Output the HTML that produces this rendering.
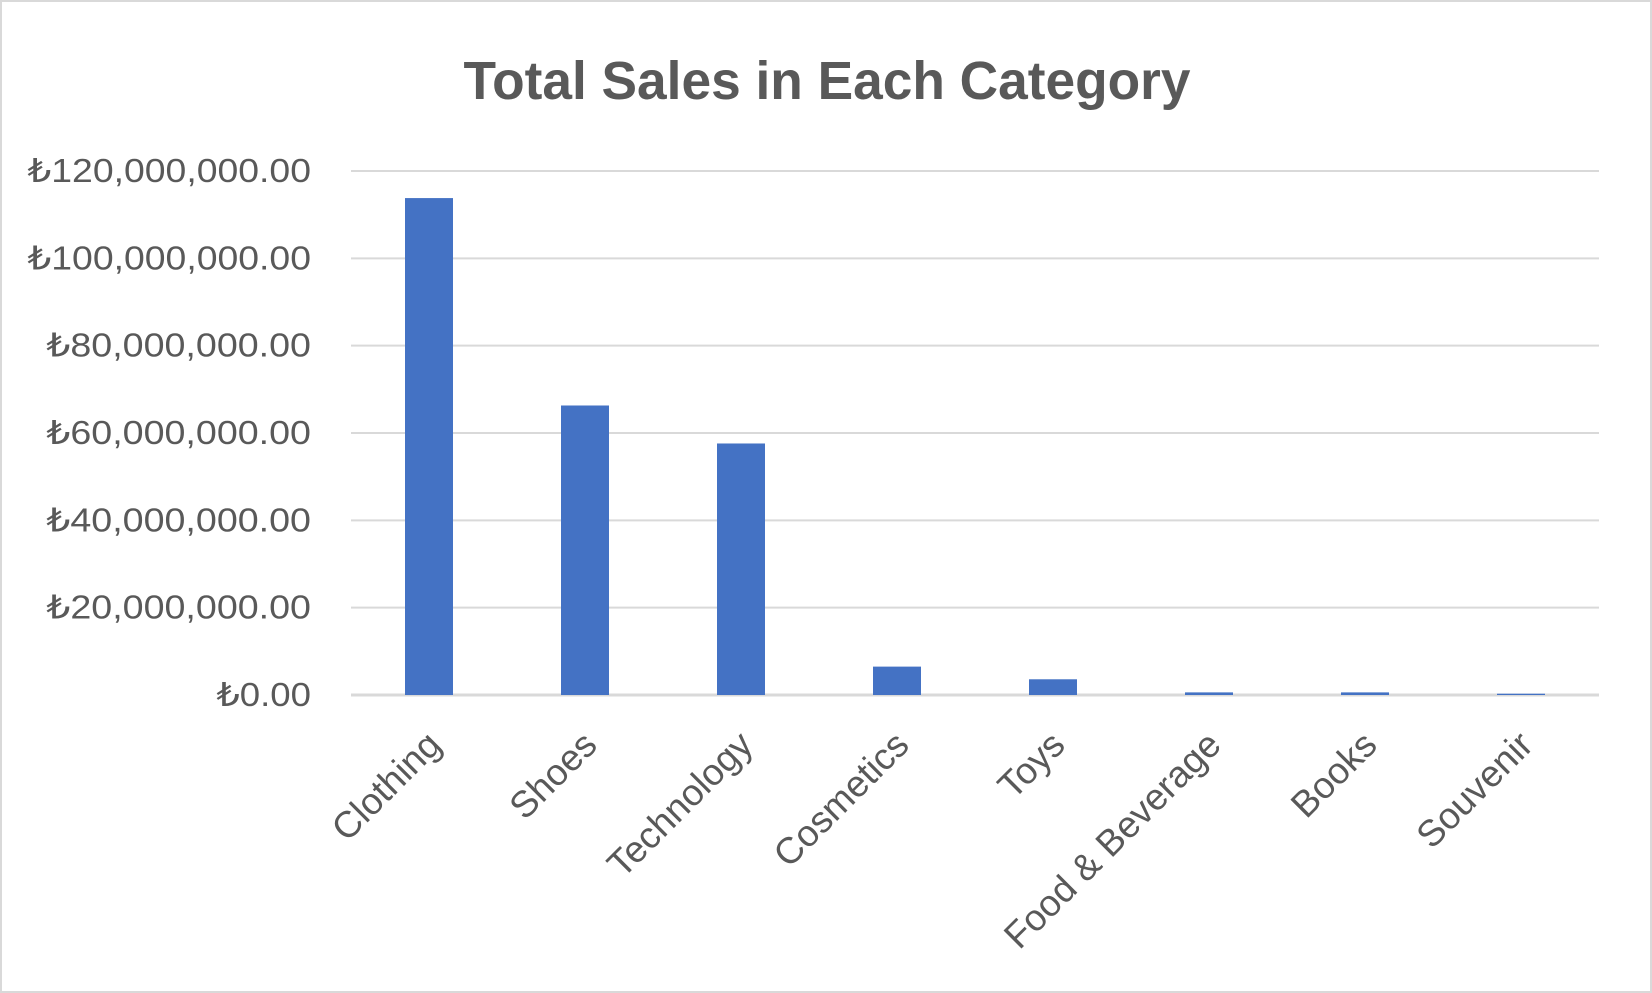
<!DOCTYPE html>
<html><head><meta charset="utf-8"><style>
html,body{margin:0;padding:0;background:#fff}
svg{display:block}
</style></head><body>
<svg id="chart" width="1652" height="993" viewBox="0 0 1652 993">
<rect x="1" y="1" width="1650" height="991" fill="#fff" stroke="#d9d9d9" stroke-width="2"/>
<text x="827" y="99" text-anchor="middle" font-family="Liberation Sans, sans-serif" font-weight="bold" font-size="54" fill="#595959" textLength="727" lengthAdjust="spacingAndGlyphs">Total Sales in Each Category</text>
<g id="grid"></g><g id="yaxis"></g><g id="bars"></g><g id="xaxis"></g>
</svg>
<script>
const categories = ["Clothing","Shoes","Technology","Cosmetics","Toys","Food & Beverage","Books","Souvenir"];
const sales = [113800000,66300000,57600000,6500000,3600000,600000,600000,300000];
const yTicks = [0,20000000,40000000,60000000,80000000,100000000,120000000];
const yTickLabels = ["₺0.00","₺20,000,000.00","₺40,000,000.00","₺60,000,000.00","₺80,000,000.00","₺100,000,000.00","₺120,000,000.00"];

const NS="http://www.w3.org/2000/svg";
const L=351,R=1599,Y0=695,YT=171,YMAX=120000000;
const y=v=>Y0-(v/YMAX)*(Y0-YT);
const band=(R-L)/categories.length;
const xc=i=>L+band*(i+0.5);
const BW=48;
function mk(t,a,p){const e=document.createElementNS(NS,t);for(const k in a)e.setAttribute(k,a[k]);p.appendChild(e);return e;}
const grid=document.getElementById('grid'),ya=document.getElementById('yaxis'),bars=document.getElementById('bars'),xa=document.getElementById('xaxis');
yTicks.forEach((v,i)=>{
  const ln=mk('line',{x1:L,x2:R,y1:y(v),y2:y(v),stroke:'#d9d9d9','stroke-width':v===0?3:2},grid);
  
  
  const t=mk('text',{x:311,y:y(v)+11,'text-anchor':'end','font-family':'Liberation Sans, DejaVu Sans, sans-serif','font-size':'33',fill:'#595959',textLength:yTickLabels[i].length*18.9,lengthAdjust:'spacingAndGlyphs'},ya);
  t.textContent=yTickLabels[i];
  
  
});
categories.forEach((c,i)=>{
  const r=mk('rect',{x:xc(i)-BW/2,y:y(sales[i]),width:BW,height:Y0-y(sales[i]),fill:'#4472c4'},bars);
  
  
  const t=mk('text',{x:0,y:0,'text-anchor':'end','font-family':'Liberation Sans, sans-serif','font-size':'37',fill:'#595959',transform:`translate(${xc(i)+14},${Y0+52}) rotate(-45)`},xa);
  t.textContent=c;
  
  
});
</script>
</body></html>
